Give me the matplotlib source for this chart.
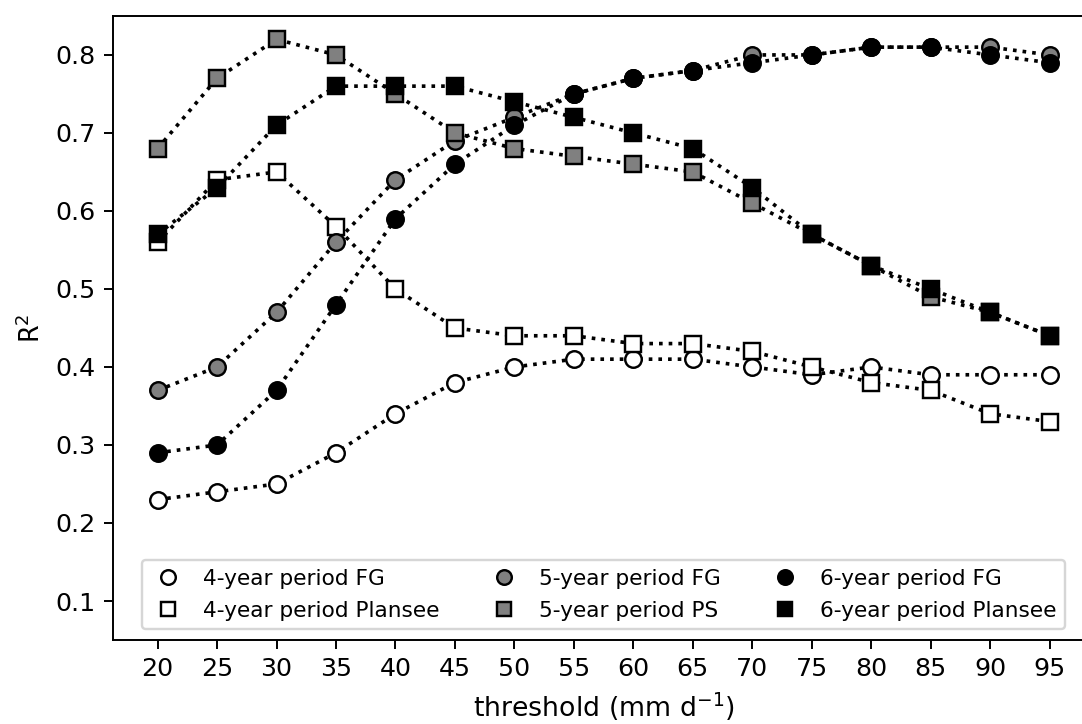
import matplotlib
matplotlib.use('Agg')
import matplotlib.pyplot as plt

# threshold values and R^2 for each period / station
thresholds = [20, 25, 30, 35, 40, 45, 50, 55, 60, 65, 70, 75, 80, 85, 90, 95]

fg_4yr = [0.23, 0.24, 0.25, 0.29, 0.34, 0.38, 0.40, 0.41, 0.41, 0.41, 0.40, 0.39, 0.40, 0.39, 0.39, 0.39]
plansee_4yr = [0.56, 0.64, 0.65, 0.58, 0.50, 0.45, 0.44, 0.44, 0.43, 0.43, 0.42, 0.40, 0.38, 0.37, 0.34, 0.33]
fg_5yr = [0.37, 0.40, 0.47, 0.56, 0.64, 0.69, 0.72, 0.75, 0.77, 0.78, 0.80, 0.80, 0.81, 0.81, 0.81, 0.80]
ps_5yr = [0.68, 0.77, 0.82, 0.80, 0.75, 0.70, 0.68, 0.67, 0.66, 0.65, 0.61, 0.57, 0.53, 0.49, 0.47, 0.44]
fg_6yr = [0.29, 0.30, 0.37, 0.48, 0.59, 0.66, 0.71, 0.75, 0.77, 0.78, 0.79, 0.80, 0.81, 0.81, 0.80, 0.79]
plansee_6yr = [0.57, 0.63, 0.71, 0.76, 0.76, 0.76, 0.74, 0.72, 0.70, 0.68, 0.63, 0.57, 0.53, 0.50, 0.47, 0.44]

series = [
    (fg_4yr, 'o', 'white', '4-year period FG'),
    (plansee_4yr, 's', 'white', '4-year period Plansee'),
    (fg_5yr, 'o', 'grey', '5-year period FG'),
    (ps_5yr, 's', 'grey', '5-year period PS'),
    (fg_6yr, 'o', 'black', '6-year period FG'),
    (plansee_6yr, 's', 'black', '6-year period Plansee'),
]

dpi = 175
fig = plt.figure(figsize=(1082 / dpi, 724 / dpi), dpi=dpi)
ax = fig.add_axes([0.1044, 0.116, 0.907, 0.862])

for vals, m, fc, lab in series:
    ax.plot(thresholds, vals, linestyle=':', color='k', linewidth=1.5,
            marker=m, markersize=6.8, markerfacecolor=fc,
            markeredgecolor='k', markeredgewidth=1.0, label=lab)

# legend shows markers only
handles = []
for vals, m, fc, lab in series:
    h, = ax.plot([], [], linestyle='none', marker=m, markersize=6,
                 markerfacecolor=fc, markeredgecolor='k',
                 markeredgewidth=1.0, label=lab)
    handles.append(h)

ax.set_xticks(thresholds)
ax.set_yticks([0.1, 0.2, 0.3, 0.4, 0.5, 0.6, 0.7, 0.8])
ax.set_ylim(0.05, 0.85)
ax.tick_params(labelsize=10.4)
ax.set_xlabel('threshold (mm d$^{-1}$)', fontsize=11)
ax.set_ylabel('R$^2$', fontsize=10.5)
ax.legend(handles=handles, loc='lower center', ncol=3, fontsize=8.9,
          handlelength=1.6, columnspacing=2.2, labelspacing=0.55)

fig.savefig('out.png', dpi=dpi)
